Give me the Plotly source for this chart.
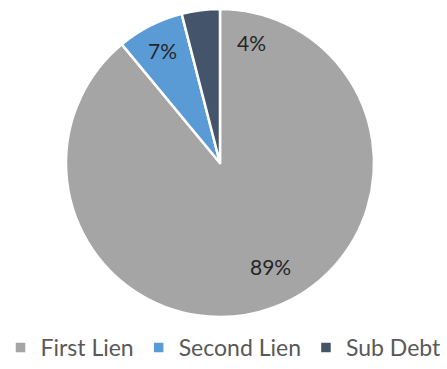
import math
import plotly.graph_objects as go

labels = ["First Lien", "Second Lien", "Sub Debt"]
values = [89, 7, 4]
colors = ["#A5A5A5", "#5B9BD5", "#44546A"]
label_text = ["89%", "7%", "4%"]

W, H = 447, 369
cx, cy, R = 220, 163, 154

fig = go.Figure()
fig.add_trace(go.Pie(
    labels=labels, values=values, sort=False, direction="clockwise", rotation=0,
    marker=dict(colors=colors, line=dict(color="white", width=2.5)),
    textinfo="none", hoverinfo="label+percent",
    domain=dict(x=[(cx - R) / W, (cx + R) / W], y=[1 - (cy + R) / H, 1 - (cy - R) / H]),
))

# data labels placed at slice mid-angles
total = sum(values)
start = 0.0
radii = [0.75, 0.82, 0.81]
shift = [-6, 0, 22]  # degrees: best-fit nudges
ann = []
for v, t, rr, sh in zip(values, label_text, radii, shift):
    ang = start + v / total * 360 / 2 + sh
    start += v / total * 360
    x = cx + rr * R * math.sin(math.radians(ang))
    y = cy - rr * R * math.cos(math.radians(ang))
    ann.append(dict(x=x / W, y=1 - y / H, xref="paper", yref="paper", text=t,
                    xanchor="center", yanchor="middle",
                    showarrow=False, font=dict(size=21, color="#262626", family="Lato")))

fig.update_layout(
    width=W, height=H, margin=dict(l=0, r=0, t=0, b=0, autoexpand=False),
    paper_bgcolor="white", plot_bgcolor="white",
    annotations=ann,
    showlegend=True,
    legend=dict(orientation="h", x=0.5, xanchor="center", y=0, yanchor="bottom",
                font=dict(size=23, color="#595959", family="Lato"),
                tracegroupgap=0),
    font=dict(family="Lato"),
)
fig.write_html("out.html")
